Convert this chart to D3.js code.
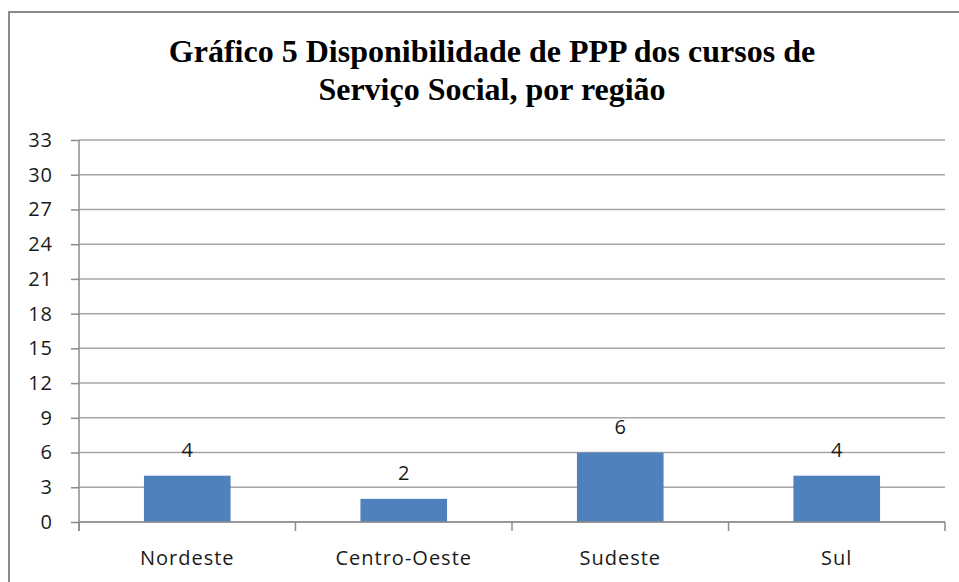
<!DOCTYPE html>
<html>
<head>
<meta charset="utf-8">
<script src="https://cdn.jsdelivr.net/npm/d3@7"></script>
<style>
  html, body { margin: 0; padding: 0; background: #ffffff; }
  svg { display: block; }
</style>
</head>
<body>
<div id="chart"></div>
<script>
// Chart data
const regions = ['Nordeste', 'Centro-Oeste', 'Sudeste', 'Sul'];
const counts = [4, 2, 6, 4];
const yTicks = [0, 3, 6, 9, 12, 15, 18, 21, 24, 27, 30, 33];
const titleLines = ['Gráfico 5 Disponibilidade de PPP dos cursos de', 'Serviço Social, por região'];

const width = 959;
const height = 582;
const plot = { left: 79, right: 945, top: 140, bottom: 522 };

const svg = d3.select('#chart')
  .append('svg')
  .attr('width', width)
  .attr('height', height);

// Outer chart frame (runs off the right and bottom of the picture)
svg.append('rect')
  .attr('x', 9)
  .attr('y', 12)
  .attr('width', 980)
  .attr('height', 620)
  .attr('fill', 'none')
  .attr('stroke', '#8a8a8a')
  .attr('stroke-width', 2);

// Title
svg.append('text')
  .attr('text-anchor', 'middle')
  .attr('font-family', '"Liberation Serif", "Times New Roman", serif')
  .attr('font-weight', 'bold')
  .attr('font-size', '32px')
  .attr('fill', '#000')
  .selectAll('tspan')
  .data(titleLines)
  .join('tspan')
  .attr('x', 492)
  .attr('y', (d, i) => 62 + i * 38)
  .text(d => d);

// Scales
const x = d3.scaleBand()
  .domain(regions)
  .range([plot.left, plot.right])
  .paddingInner(0.6)
  .paddingOuter(0.3);

const y = d3.scaleLinear()
  .domain([0, 33])
  .range([plot.bottom, plot.top]);

const labelFont = '"Open Sans", sans-serif';

// Gridlines
svg.append('g')
  .selectAll('line')
  .data(yTicks)
  .join('line')
  .attr('x1', plot.left)
  .attr('x2', plot.right)
  .attr('y1', d => y(d))
  .attr('y2', d => y(d))
  .attr('stroke', '#a6a6a6')
  .attr('stroke-width', 1.5);

// Y axis
const yAxis = svg.append('g')
  .attr('transform', `translate(${plot.left},0)`)
  .call(d3.axisLeft(y).tickValues(yTicks).tickSize(8).tickPadding(18));

yAxis.select('.domain').remove();
yAxis.selectAll('.tick line').attr('stroke', '#8c8c8c').attr('stroke-width', 1.5);
yAxis.selectAll('.tick text')
  .attr('font-family', labelFont)
  .attr('font-size', '20px')
  .attr('letter-spacing', '1px')
  .attr('fill', '#1a1a1a');

// Vertical axis line
svg.append('line')
  .attr('x1', plot.left)
  .attr('x2', plot.left)
  .attr('y1', plot.top)
  .attr('y2', plot.bottom + 9)
  .attr('stroke', '#8c8c8c')
  .attr('stroke-width', 1.5);

// Bars
svg.append('g')
  .selectAll('rect')
  .data(counts)
  .join('rect')
  .attr('x', (d, i) => x(regions[i]))
  .attr('y', d => y(d))
  .attr('width', x.bandwidth())
  .attr('height', d => y(0) - y(d))
  .attr('fill', '#4f81bd');

// Value labels
svg.append('g')
  .selectAll('text')
  .data(counts)
  .join('text')
  .attr('x', (d, i) => x(regions[i]) + x.bandwidth() / 2)
  .attr('y', d => y(d) - 19)
  .attr('text-anchor', 'middle')
  .attr('font-family', labelFont)
  .attr('font-size', '20px')
  .attr('fill', '#1a1a1a')
  .text(d => d);

// X axis: category separators and labels
const step = x.step();
const separators = d3.range(regions.length + 1).map(i => plot.left + i * step);

svg.append('line')
  .attr('x1', plot.left)
  .attr('x2', plot.right)
  .attr('y1', plot.bottom)
  .attr('y2', plot.bottom)
  .attr('stroke', '#8c8c8c')
  .attr('stroke-width', 1.5);

svg.append('g')
  .selectAll('line')
  .data(separators)
  .join('line')
  .attr('x1', d => d)
  .attr('x2', d => d)
  .attr('y1', plot.bottom)
  .attr('y2', plot.bottom + 9)
  .attr('stroke', '#8c8c8c')
  .attr('stroke-width', 1.5);

svg.append('g')
  .selectAll('text')
  .data(regions)
  .join('text')
  .attr('x', d => x(d) + x.bandwidth() / 2)
  .attr('y', 565)
  .attr('text-anchor', 'middle')
  .attr('font-family', labelFont)
  .attr('font-size', '20px')
  .attr('letter-spacing', '1px')
  .attr('fill', '#1a1a1a')
  .text(d => d);
</script>
</body>
</html>
